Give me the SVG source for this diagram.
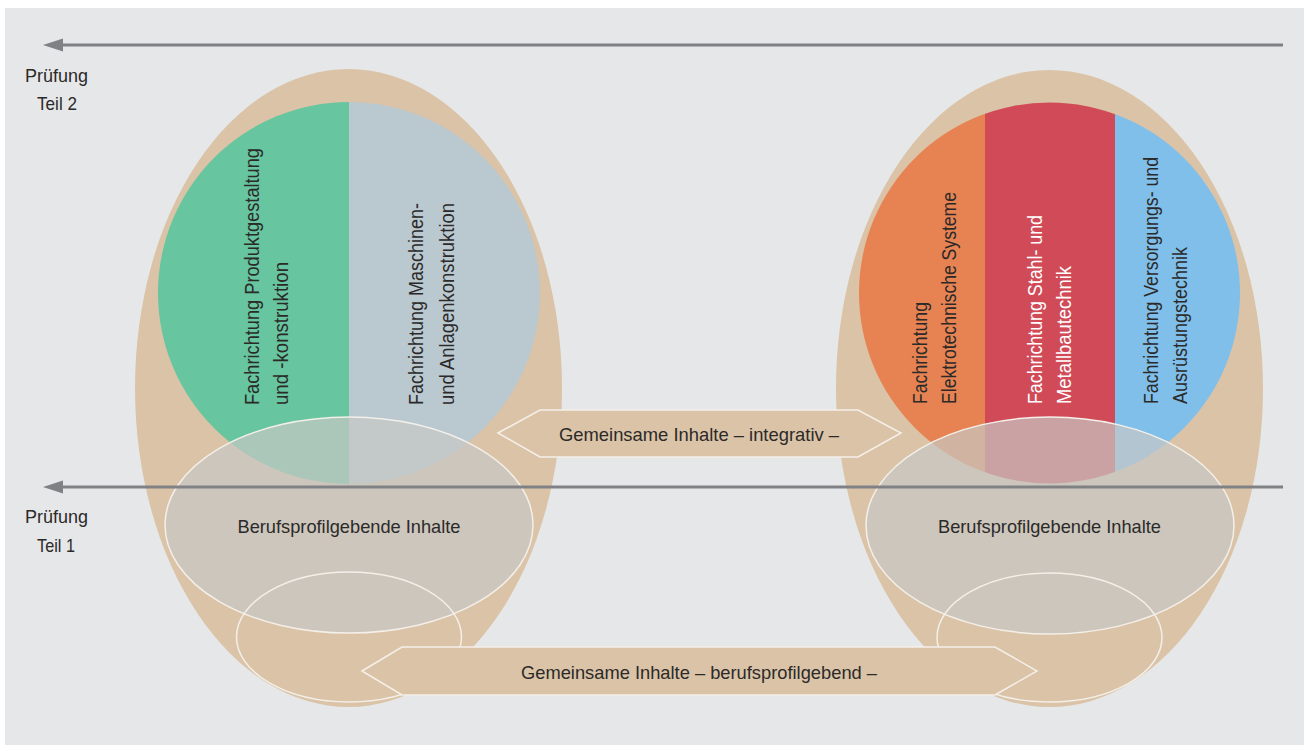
<svg xmlns="http://www.w3.org/2000/svg" width="1304" height="745" viewBox="0 0 1304 745">
<style>
.t{font-family:"Liberation Sans",Arial,sans-serif;font-size:19px;fill:#2b2a29}
.v{font-size:20px}
.w{fill:#ffffff}
.tan{fill:#dbc3a7}
.bp{fill:#c8c7c4;fill-opacity:0.7;stroke:#f3efe9;stroke-width:1.5}
.sm{fill:none;stroke:#f3efe9;stroke-width:1.5}
.arr{fill:#dbc3a7;stroke:#f5f0ea;stroke-width:1.5}
.ln{stroke:#7f8184;stroke-width:3;fill:none}
.ah{fill:#7f8184}
</style>
<defs>
<clipPath id="rc"><circle cx="1049.5" cy="293" r="190.5"/></clipPath>
</defs>
<rect x="0" y="0" width="1304" height="745" fill="#ffffff"/>
<rect x="5" y="8" width="1299" height="737" fill="#e6e7e8"/>

<g id="pruefung2">
<line class="ln" x1="58" y1="45" x2="1283" y2="45"/>
<polygon class="ah" points="43,45 63,38.5 63,51.5"/>
<text class="t" x="25" y="82" textLength="63" lengthAdjust="spacingAndGlyphs">Prüfung</text>
<text class="t" x="37" y="110" textLength="40" lengthAdjust="spacingAndGlyphs">Teil 2</text>
</g>

<g id="left-group">
<ellipse class="tan" cx="348.5" cy="388" rx="213.5" ry="319"/>
<path d="M349,102 A191,191 0 0 0 349,484 Z" fill="#67c59f"/>
<path d="M349,102 A191,191 0 0 1 349,484 Z" fill="#bac8d0"/>
<text class="t v" transform="translate(259,405) rotate(-90)" textLength="257" lengthAdjust="spacingAndGlyphs">Fachrichtung Produktgestaltung</text>
<text class="t v" transform="translate(288,405) rotate(-90)" textLength="143" lengthAdjust="spacingAndGlyphs">und -konstruktion</text>
<text class="t v" transform="translate(423,405) rotate(-90)" textLength="202" lengthAdjust="spacingAndGlyphs">Fachrichtung Maschinen-</text>
<text class="t v" transform="translate(454,405) rotate(-90)" textLength="202" lengthAdjust="spacingAndGlyphs">und Anlagenkonstruktion</text>
</g>

<g id="right-group">
<ellipse class="tan" cx="1049.5" cy="388.5" rx="213.5" ry="318.5"/>
<g clip-path="url(#rc)">
<rect x="855" y="100" width="130" height="390" fill="#e78352"/>
<rect x="985" y="100" width="130" height="390" fill="#d04b57"/>
<rect x="1115" y="100" width="130" height="390" fill="#80bfea"/>
</g>
<text class="t v" transform="translate(927,404) rotate(-90)" textLength="102" lengthAdjust="spacingAndGlyphs">Fachrichtung</text>
<text class="t v" transform="translate(956,404) rotate(-90)" textLength="212" lengthAdjust="spacingAndGlyphs">Elektrotechnische Systeme</text>
<text class="t v w" transform="translate(1042,404) rotate(-90)" textLength="189" lengthAdjust="spacingAndGlyphs">Fachrichtung Stahl- und</text>
<text class="t v w" transform="translate(1071,404) rotate(-90)" textLength="138" lengthAdjust="spacingAndGlyphs">Metallbautechnik</text>
<text class="t v" transform="translate(1158,404) rotate(-90)" textLength="247" lengthAdjust="spacingAndGlyphs">Fachrichtung Versorgungs- und</text>
<text class="t v" transform="translate(1187,404) rotate(-90)" textLength="157" lengthAdjust="spacingAndGlyphs">Ausrüstungstechnik</text>
</g>

<g id="berufs-left">
<ellipse class="bp" cx="349" cy="525" rx="184" ry="108"/>
<ellipse class="sm" cx="349" cy="637" rx="112.5" ry="65"/>
<text class="t" x="349" y="533" text-anchor="middle" textLength="223" lengthAdjust="spacingAndGlyphs">Berufsprofilgebende Inhalte</text>
</g>

<g id="berufs-right">
<ellipse class="bp" cx="1050" cy="525.5" rx="184" ry="108.5"/>
<ellipse class="sm" cx="1049.5" cy="637.5" rx="112.5" ry="64.5"/>
<text class="t" x="1049.5" y="533" text-anchor="middle" textLength="223" lengthAdjust="spacingAndGlyphs">Berufsprofilgebende Inhalte</text>
</g>

<g id="pruefung1">
<line class="ln" x1="58" y1="487" x2="1283" y2="487"/>
<polygon class="ah" points="43,487 63,480.5 63,493.5"/>
<text class="t" x="25" y="523" textLength="63" lengthAdjust="spacingAndGlyphs">Prüfung</text>
<text class="t" x="37" y="552" textLength="38" lengthAdjust="spacingAndGlyphs">Teil 1</text>
</g>

<g id="connectors">
<g id="integrativ">
<polygon class="arr" points="498,433 540,410 858,410 901,433 858,457 540,457"/>
<text class="t" x="699" y="441" text-anchor="middle" textLength="280" lengthAdjust="spacingAndGlyphs">Gemeinsame Inhalte – integrativ –</text>
</g>
<g id="berufsprofilgebend">
<polygon class="arr" points="362,671 402,647 995,647 1037,671 995,695 402,695"/>
<text class="t" x="699" y="679" text-anchor="middle" textLength="356" lengthAdjust="spacingAndGlyphs">Gemeinsame Inhalte – berufsprofilgebend –</text>
</g>
</g>
</svg>
